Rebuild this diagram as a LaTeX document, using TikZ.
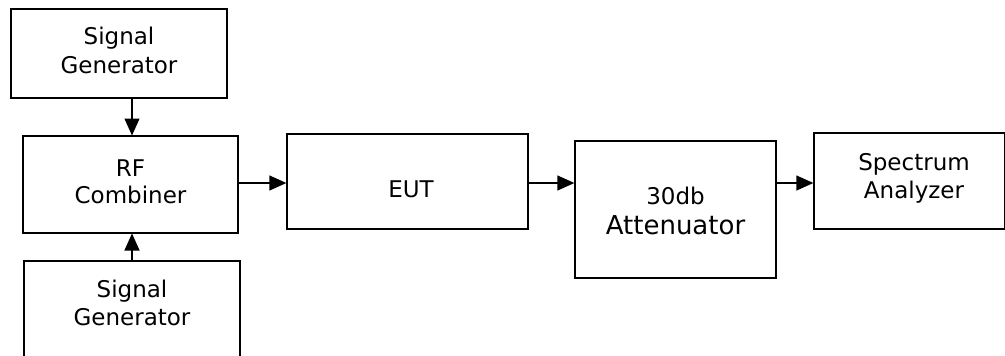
\documentclass[tikz,border=0pt]{standalone}
\usepackage{fontspec}
\setmainfont{DejaVu Sans}
\usetikzlibrary{arrows.meta}
\begin{document}
\begin{tikzpicture}[x=1pt,y=-1pt,
  blk/.style={draw,line width=1.3pt,rectangle,inner sep=0pt},
  txt/.style={font=\fontsize{23}{28}\selectfont,align=center,inner sep=0pt,anchor=base},
  arr/.style={line width=1.3pt,-{Triangle[length=17pt,width=15pt]}}]
\useasboundingbox (0,0) rectangle (1005,356);
\clip (0,0) rectangle (1005,356);
\fill[white] (0,0) rectangle (1005,356);
% boxes
\node[blk,minimum width=216pt,minimum height=89pt] (sg1) at (119,53.5) {};
\node[blk,minimum width=215pt,minimum height=97pt] (rf) at (130.5,184.5) {};
\node[blk,minimum width=216pt,minimum height=110pt] (sg2) at (132,316) {};
\node[blk,minimum width=241pt,minimum height=95pt] (eut) at (407.5,181.5) {};
\node[blk,minimum width=201pt,minimum height=137pt] (att) at (675.5,209.5) {};
\node[blk,minimum width=191pt,minimum height=96pt] (sa) at (909.5,181) {};
% texts
\node[txt] (t1) at (119,45) {Signal};
\node[txt] (t1b) at (119,73) {Generator};
\node[txt] (t2) at (130.5,176) {RF};
\node[txt] (t2b) at (130.5,203) {Combiner};
\node[txt] (t3) at (132,297) {Signal};
\node[txt] (t3b) at (132,325) {Generator};
\node[txt] (t4) at (411,197) {EUT};
\node[txt] (t5) at (675.5,204) {30db};
\node[txt,font=\fontsize{26}{30}\selectfont] (t5b) at (675.5,234) {Attenuator};
\node[txt] (t6) at (914,170) {Spectrum};
\node[txt] (t6b) at (914,198) {Analyzer};
% arrows
\coordinate (rfin) at (132,135.5);
\coordinate (rfin2) at (132,233.5);
\draw[arr] (sg1.south -| rfin) -- (rfin);
\draw[arr] (sg2.north) -- (rfin2);
\coordinate (y1) at (0,183);
\draw[arr] (rf.east |- y1) -- (eut.west |- y1);
\draw[arr] (eut.east |- y1) -- (att.west |- y1);
\draw[arr] (att.east |- y1) -- (sa.west |- y1);
\end{tikzpicture}
\end{document}
